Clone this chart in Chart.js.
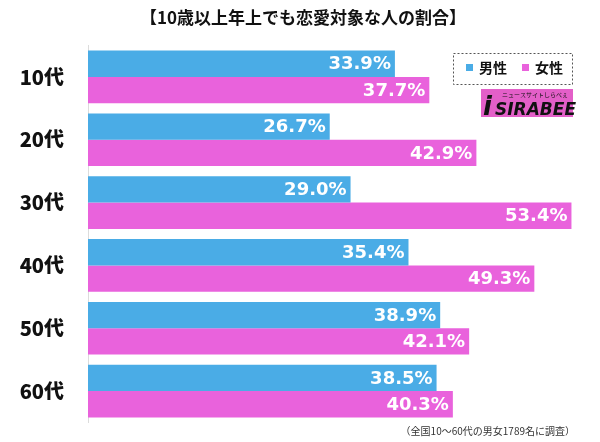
<!DOCTYPE html>
<html><head><meta charset="utf-8">
<script src="https://cdn.jsdelivr.net/npm/chart.js@4/dist/chart.umd.min.js"></script>
<style>html,body{margin:0;padding:0;background:#fff}#wrap{width:600px;height:442px}</style>
</head><body><div id="wrap"><canvas id="c" width="600" height="442"></canvas></div>
<script>
const titleText = '【10歳以上年上でも恋愛対象な人の割合】';
const noteText = '（全国10〜60代の男女1789名に調査）';
const categories = ['10代','20代','30代','40代','50代','60代'];
const seriesNames = ['男性','女性'];
const maleValues = [33.9, 26.7, 29.0, 35.4, 38.9, 38.5];
const femaleValues = [37.7, 42.9, 53.4, 49.3, 42.1, 40.3];
const colors = ['#4AACE6','#E962DC'];

const JP = '"Noto Sans CJK JP", sans-serif';

const decor = {
  id: 'decor',
  afterDatasetsDraw(chart) {
    const ctx = chart.ctx;
    ctx.save();
    ctx.font = 'bold 18px "DejaVu Sans", sans-serif';
    ctx.fillStyle = '#fff';
    ctx.textAlign = 'right';
    ctx.textBaseline = 'middle';
    chart.data.datasets.forEach((ds, di) => {
      chart.getDatasetMeta(di).data.forEach((bar, i) => {
        ctx.fillText(ds.data[i].toFixed(1) + '%', bar.x - 4, bar.y + 1);
      });
    });
    ctx.restore();
  },
  afterDraw(chart) {
    const ctx = chart.ctx;
    ctx.save();
    ctx.fillStyle = '#111';
    ctx.font = 'bold 17px ' + JP;
    ctx.textAlign = 'center';
    ctx.textBaseline = 'middle';
    ctx.fillText(titleText, 303, 18);
    ctx.font = '10px ' + JP;
    ctx.fillStyle = '#333';
    ctx.textAlign = 'right';
    ctx.fillText(noteText, 575, 431);
    ctx.setLineDash([2, 2]);
    ctx.strokeStyle = '#555';
    ctx.lineWidth = 1;
    ctx.strokeRect(453.5, 53.5, 119, 31);
    ctx.setLineDash([]);
    const items = [[466, 479], [522, 535]];
    seriesNames.forEach((n, i) => {
      ctx.fillStyle = colors[i];
      ctx.fillRect(items[i][0], 64, 7, 7);
      ctx.fillStyle = '#111';
      ctx.font = 'bold 14px ' + JP;
      ctx.textAlign = 'left';
      ctx.textBaseline = 'middle';
      ctx.fillText(n, items[i][1], 68);
    });
    ctx.fillStyle = '#E35FC8';
    ctx.fillRect(481, 89, 92, 28);
    ctx.fillStyle = '#111';
    ctx.font = 'italic bold 17px "DejaVu Sans", sans-serif';
    ctx.textAlign = 'left';
    ctx.textBaseline = 'alphabetic';
    ctx.fillText('SIRABEE', 495, 115);
    ctx.font = 'italic bold 26px "DejaVu Sans", sans-serif';
    ctx.fillText('i', 483, 115);
    ctx.font = '6px ' + JP;
    ctx.fillText('ニュースサイトしらべぇ', 502, 97);
    ctx.restore();
  }
};

new Chart(document.getElementById('c'), {
  type: 'bar',
  data: {
    labels: categories,
    datasets: [
      { label: seriesNames[0], data: maleValues, backgroundColor: colors[0], barPercentage: 1, categoryPercentage: 0.838 },
      { label: seriesNames[1], data: femaleValues, backgroundColor: colors[1], barPercentage: 1, categoryPercentage: 0.838 }
    ]
  },
  options: {
    indexAxis: 'y',
    responsive: false,
    animation: false,
    devicePixelRatio: 1,
    layout: { padding: { left: 0, right: 5, top: 45.5, bottom: 19.5 } },
    plugins: { legend: { display: false }, title: { display: false }, tooltip: { enabled: false } },
    scales: {
      x: { display: false, min: 0, max: 56 },
      y: {
        afterFit(s) { s.width = 88; s.paddingTop = 0; s.paddingBottom = 0; },
        grid: { display: false, drawTicks: false },
        border: { display: true, color: '#dcdcdc', width: 1 },
        ticks: { padding: 24, color: '#111', font: { family: 'Noto Sans CJK JP', weight: '900', size: 20 } }
      }
    }
  },
  plugins: [decor]
});
</script>
</body></html>
